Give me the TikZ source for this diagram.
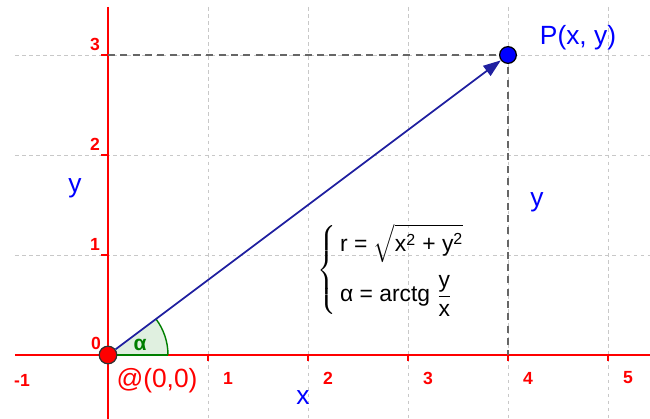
\documentclass[tikz,border=0pt]{standalone}
\usepackage{amsmath}
\usepackage{fontspec}
\setmainfont{Liberation Sans}
\usetikzlibrary{arrows.meta}
\definecolor{axisred}{HTML}{FF0000}
\definecolor{vecblue}{HTML}{2020A0}
\definecolor{ptblue}{HTML}{0000FF}
\definecolor{anglegreen}{HTML}{007F00}
\definecolor{gridgray}{HTML}{C8C8C8}

\begin{document}
\begin{tikzpicture}[
      x=2cm, y=2cm,
      axis/.style={axisred, line width=0.8pt},
      grid/.style={gridgray, dashed, dash pattern=on 2pt off 2pt, line width=0.5pt},
      proj/.style={black!60, dashed, dash pattern=on 4pt off 3pt, line width=0.7pt},
      tick/.style={text=axisred, font=\fontsize{10}{12}\selectfont\bfseries},
      lbl/.style={text=ptblue, font=\fontsize{15}{18}\selectfont},
      vec/.style={vecblue, line width=1pt, -{Triangle[length=10pt, width=7pt]}}
    ]
      \useasboundingbox (-1.08,-0.64) rectangle (5.42,3.55);
      % grid
      \foreach \k in {1,2,3}
        \draw[grid] (-0.93,\k) -- (5.42,\k);
      \foreach \k in {1,...,5}
        \draw[grid] (\k,3.48) -- (\k,-0.64);
      % axes and ticks
      \draw[axis] (-0.93,0) -- (5.42,0);
      \draw[axis] (0,3.48) -- (0,-0.64);
      \foreach \k in {1,...,5} {
        \draw[axis] (\k,0) -- (\k,-0.06);
        \node[tick] (xt\k) at (\k+0.2,-0.23) {\k};
      }
      \foreach \k in {1,2,3} {
        \draw[axis] (0,\k) -- (-0.07,\k);
        \node[tick] (yt\k) at (-0.13,\k+0.11) {\k};
      }
      \node[tick] (xtm) at (-0.86,-0.25) {-1};
      \node[tick] (zero) at (-0.12,0.12) {0};
      % points
      \coordinate (O) at (0,0);
      \coordinate (P) at (4,3);
      \coordinate (Px) at (4,0);
      \coordinate (Py) at (0,3);
      % angle
      \fill[anglegreen!12] (O) -- (0.6,0) arc[start angle=0, end angle=36.87, radius=0.6] -- cycle;
      \draw[anglegreen, line width=0.8pt] (0.6,0) arc[start angle=0, end angle=36.87, radius=0.6];
      \draw[anglegreen, line width=0.8pt] (O) -- (0.6,0);
      \node[text=anglegreen, font=\fontsize{12}{14}\selectfont\bfseries] (alpha) at (0.32,0.1) {α};
      % projections
      \draw[proj] (Py) -- (P);
      \draw[proj] (P) -- (Px);
      % vector
      \node[circle, fill=ptblue, draw=black, line width=0.7pt, inner sep=0pt, minimum size=9.5pt] (Pdot) at (P) {};
      \node[circle, fill=axisred, draw=black!80, line width=0.7pt, inner sep=0pt, minimum size=10pt] (Odot) at (O) {};
      \draw[vec] (Odot) -- (Pdot);
      % labels
      \node[lbl] (Plbl) at (4.7,3.17) {P(x, y)};
      \node[text=axisred, font=\fontsize{15}{18}\selectfont] (Olbl) at (0.49,-0.26) {@(0,0)};
      \node[lbl] (xlbl) at (1.95,-0.43) {x};
      \node[lbl] (ylbl) at (-0.33,1.67) {y};
      \node[lbl] (ylbr) at (4.29,1.53) {y};
      \node[font=\fontsize{13}{15}\selectfont] (form) at (2.88,0.85)
        {$\left\{\begin{array}{@{\,}l}
          \text{r = }\sqrt{\text{x}^{\text{2}}\text{ + y}^{\text{2}}}\\[9pt]
          \text{α = arctg }\dfrac{\text{y}}{\text{x}}
        \end{array}\right.$};
    \end{tikzpicture}
\end{document}
